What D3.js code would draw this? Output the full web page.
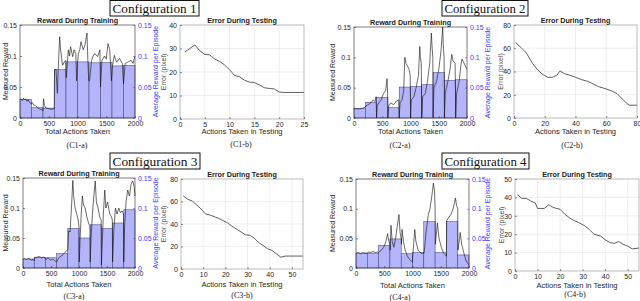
<!DOCTYPE html>
<html>
<head>
<meta charset="utf-8">
<script src="https://cdn.jsdelivr.net/npm/d3@7"></script>
<style>
  body { margin: 0; background: #fff; }
  svg { display: block; font-family: "Liberation Sans", Arial, sans-serif; }
  .tick text { font-size: 7px; fill: #262626; }
  .tick line { stroke: #262626; stroke-width: 0.5; }
  .domain { display: none; }
  .blue .tick text { fill: #3c3cff; }
  .blue .tick line { stroke: #3c3cff; }
</style>
</head>
<body>
<svg id="fig" width="640" height="301"></svg>
<script>
// ── Data ────────────────────────────────────────────────────────
const episodeStarts = [0, 200, 400, 600, 800, 1000, 1200, 1400, 1600, 1800];

const c1Bars = [0.0297, 0.0165, 0.016, 0.078, 0.0905, 0.0905, 0.089, 0.0895, 0.084, 0.085];
const c2Bars = [0.0157, 0.026, 0.034, 0.017, 0.051, 0.052, 0.055, 0.075, 0.062, 0.063];
const c3Bars = [0.015, 0.018, 0.017, 0.024, 0.066, 0.05, 0.072, 0.066, 0.075, 0.097];
const c4Bars = [0.025, 0.025, 0.038, 0.049, 0.024, 0.026, 0.078, 0.026, 0.078, 0.022];

const c1Reward = [
  [0,0.03],[20,0.031],[40,0.028],[60,0.032],[80,0.029],[100,0.031],[120,0.027],[140,0.03],[160,0.026],[180,0.024],[200,0.022],
  [210,0.025],[240,0.021],[270,0.02],[300,0.017],[330,0.015],[360,0.014],[390,0.013],
  [400,0.012],[410,0.031],[425,0.02],[450,0.016],[500,0.015],[550,0.014],[595,0.015],
  [600,0.077],[625,0.079],[650,0.04],[665,0.08],[690,0.131],[705,0.11],[715,0.104],[740,0.085],[770,0.09],[795,0.093],
  [805,0.065],[840,0.11],[860,0.1],[880,0.115],[915,0.099],[940,0.11],[970,0.104],[985,0.06],[1000,0.088],
  [1015,0.104],[1040,0.11],[1060,0.123],[1100,0.11],[1130,0.118],[1165,0.137],[1180,0.093],[1195,0.06],
  [1210,0.06],[1245,0.093],[1270,0.1],[1300,0.104],[1350,0.099],[1390,0.11],[1400,0.05],
  [1425,0.093],[1470,0.1],[1500,0.095],[1530,0.12],[1560,0.11],[1590,0.06],
  [1610,0.085],[1640,0.101],[1680,0.09],[1730,0.096],[1780,0.088],[1800,0.055],
  [1830,0.088],[1890,0.091],[1935,0.093],[1965,0.088],[2000,0.1]
];
const c2Reward = [
  [0,0.016],[50,0.015],[100,0.015],[150,0.016],[200,0.018],
  [210,0.02],[250,0.022],[300,0.025],[340,0.03],[370,0.027],[390,0.035],
  [400,0.0],[410,0.02],[440,0.025],[480,0.03],[520,0.04],[560,0.045],[585,0.065],[595,0.04],
  [600,0.0],[615,0.02],[650,0.025],[700,0.022],[750,0.028],[790,0.03],
  [800,0.0],[815,0.025],[850,0.03],[880,0.045],[900,0.1],[920,0.09],[950,0.085],[975,0.08],[995,0.07],
  [1000,0.0],[1015,0.03],[1060,0.035],[1100,0.05],[1140,0.07],[1165,0.118],[1175,0.1],[1190,0.09],
  [1200,0.0],[1215,0.035],[1260,0.04],[1300,0.06],[1340,0.09],[1370,0.14],[1380,0.12],[1395,0.1],
  [1400,0.0],[1415,0.05],[1460,0.06],[1500,0.08],[1540,0.11],[1570,0.15],[1580,0.12],[1595,0.1],
  [1600,0.0],[1615,0.04],[1660,0.06],[1700,0.08],[1730,0.105],[1750,0.095],[1790,0.09],
  [1800,0.0],[1815,0.04],[1860,0.06],[1890,0.085],[1910,0.097],[1950,0.09],[2000,0.08]
];
const c3Reward = [
  [0,0.015],[30,0.016],[60,0.014],[90,0.016],[120,0.015],[150,0.013],[180,0.014],[200,0.012],
  [210,0.017],[250,0.018],[290,0.019],[330,0.017],[370,0.018],[400,0.016],
  [410,0.014],[450,0.017],[490,0.013],[530,0.015],[570,0.012],[600,0.01],
  [610,0.012],[650,0.018],[690,0.02],[730,0.024],[770,0.028],[790,0.03],
  [800,0.03],[815,0.062],[840,0.06],[865,0.1],[890,0.146],[905,0.12],[930,0.1],[960,0.09],[985,0.08],[1000,0.068],
  [1005,0.01],[1020,0.05],[1040,0.09],[1060,0.12],[1080,0.105],[1110,0.1],[1140,0.085],[1170,0.075],[1195,0.07],
  [1200,0.01],[1215,0.05],[1240,0.09],[1265,0.12],[1290,0.145],[1310,0.11],[1340,0.1],[1370,0.085],[1395,0.08],
  [1400,0.005],[1415,0.04],[1435,0.09],[1460,0.13],[1480,0.1],[1510,0.11],[1550,0.09],[1580,0.085],[1595,0.08],
  [1600,0.01],[1620,0.06],[1650,0.1],[1680,0.09],[1710,0.1],[1740,0.092],[1770,0.095],[1795,0.09],
  [1800,0.01],[1815,0.07],[1840,0.11],[1870,0.13],[1900,0.12],[1930,0.14],[1960,0.145],[1985,0.135],[2000,0.12]
];
const c4Reward = [
  [0,0.025],[40,0.026],[80,0.024],[120,0.026],[160,0.025],[200,0.025],
  [220,0.027],[260,0.026],[300,0.028],[340,0.026],[380,0.027],[400,0.026],
  [410,0.027],[450,0.03],[490,0.035],[530,0.045],[560,0.058],[580,0.045],[600,0.04],
  [605,0.03],[620,0.072],[640,0.045],[670,0.035],[700,0.05],[730,0.07],[760,0.09],[780,0.06],[800,0.05],
  [805,0.04],[815,0.065],[840,0.045],[870,0.03],[910,0.02],[950,0.014],[1000,0.01],
  [1005,0.02],[1040,0.065],[1060,0.045],[1100,0.03],[1150,0.025],[1200,0.025],
  [1205,0.025],[1240,0.06],[1280,0.09],[1310,0.1],[1340,0.12],[1370,0.143],[1390,0.13],[1400,0.1],
  [1405,0.04],[1440,0.076],[1470,0.05],[1510,0.035],[1550,0.025],[1600,0.02],
  [1605,0.08],[1640,0.085],[1680,0.09],[1720,0.1],[1760,0.118],[1780,0.105],[1800,0.1],
  [1805,0.03],[1845,0.06],[1870,0.04],[1910,0.025],[1950,0.012],[2000,0.005]
];

const c1Error = [[1,28.5],[2,30],[3,31.5],[4,29],[5,27.5],[6,27.3],[7,25.5],[8,24.5],[9,23],[10,21],[11,18.5],[12,18],[13,16.5],[14,15.7],[15,15.5],[16,14.5],[17,13.3],[18,13],[19,12.8],[20,11.5],[21,11.3],[22,11.3],[23,11.3],[24,11.3],[25,11.3]];
const c2Error = [[1,65],[5,60],[8,56],[12,47],[15,42],[18,38],[22,35],[25,35],[28,37],[30,40.5],[33,38],[36,37],[40,35],[44,33],[48,31.5],[52,29],[55,27],[60,25],[64,23],[67,21],[70,17],[73,13],[75,11],[80,11]];
const c3Error = [[1,65],[3,62],[5,60.5],[7,57],[9,53.5],[11,49],[13,48],[15,46.5],[17,45],[19,43],[21,41],[23,38],[25,35.5],[27,33],[29,30.5],[31,30],[33,27.5],[35,23.5],[37,21],[39,18],[41,16.5],[43,13.5],[45,10.5],[47,11.5],[49,11.5],[55,11.5]];
const c4Error = [[1,41.5],[3,39.5],[5,39.5],[7,38],[9,37],[10,34],[13,34],[15,36],[17,34.5],[20,33.5],[22,31],[24,29],[26,27.5],[28,26.5],[31,24.5],[33,22.5],[35,20],[38,19],[40,17],[42,15.5],[44,15],[46,16],[48,14.5],[50,13.5],[52,12],[55,12.5]];

const rewardTicks = [0, 0.05, 0.1, 0.15];
const actionTicks = [0, 500, 1000, 1500, 2000];

const configLabels = ['Configuration 1', 'Configuration 2', 'Configuration 3', 'Configuration 4'];
const captionsA = ['(C1-a)', '(C2-a)', '(C3-a)', '(C4-a)'];
const captionsB = ['(C1-b)', '(C2-b)', '(C3-b)', '(C4-b)'];

// ── Layout ──────────────────────────────────────────────────────
const svg = d3.select('#fig');
const BLUE = '#3c3cff';

const trainPanels = [
  { bars: c1Bars, line: c1Reward, box: [20, 135, 25, 118], lab: 5, rlab: 155, cap: [77, 145], xl: 131 },
  { bars: c2Bars, line: c2Reward, box: [354, 467, 27, 118], lab: 332, rlab: 487, cap: [400, 145], xl: 131 },
  { bars: c3Bars, line: c3Reward, box: [23, 135, 178, 268], lab: 5, rlab: 155, cap: [74, 296], xl: 284 },
  { bars: c4Bars, line: c4Reward, box: [356, 469, 179, 268], lab: 332, rlab: 487, cap: [400, 297], xl: 285 }
];
const testPanels = [
  { line: c1Error, xmax: 25, xticks: [0,5,10,15,20,25], ymax: 40, yticks: [0,10,20,30,40], box: [180, 304, 25, 119], lab: 163, cap: [241, 144], xl: 131 },
  { line: c2Error, xmax: 80, xticks: [0,20,40,60,80], ymax: 80, yticks: [0,20,40,60,80], box: [514, 637, 25, 118], lab: 500, cap: [572, 145], xl: 131 },
  { line: c3Error, xmax: 55, xticks: [0,10,20,30,40,50], ymax: 80, yticks: [0,20,40,60,80], box: [181, 303, 179, 269], lab: 163, cap: [242, 295], xl: 284 },
  { line: c4Error, xmax: 55, xticks: [0,10,20,30,40,50], ymax: 50, yticks: [0,10,20,30,40,50], box: [515, 639, 179, 271], lab: 501, cap: [575, 294], xl: 285 }
];
const configBoxes = [[110, 199, 0.5, 16], [442, 528, 0.5, 16], [110, 200, 153, 169], [442, 529, 153, 169]];

const fmtR = d => d === 0 ? '0' : String(+d.toFixed(2));
const fmtI = d3.format('d');

function rotLabel(x, y, text, color) {
  svg.append('text')
    .attr('transform', `translate(${x},${y}) rotate(-90)`)
    .attr('text-anchor', 'middle').attr('dominant-baseline', 'central')
    .attr('font-size', 7).attr('fill', color).text(text);
}

function title(x, y, text) {
  svg.append('text').attr('x', x).attr('y', y).attr('text-anchor', 'middle')
    .attr('font-size', 7.2).attr('font-weight', 'bold').attr('fill', '#1a1a1a').text(text);
}

function caption(x, y, text) {
  svg.append('text').attr('x', x).attr('y', y).attr('text-anchor', 'middle')
    .attr('dominant-baseline', 'central')
    .attr('font-family', '"Liberation Serif", "Times New Roman", serif')
    .attr('font-size', 8).attr('fill', '#222').text(text);
}

// ── Training panels ─────────────────────────────────────────────
trainPanels.forEach((p, i) => {
  const [x0, x1, y0, y1] = p.box;
  const x = d3.scaleLinear().domain([0, 2000]).range([x0, x1]);
  const y = d3.scaleLinear().domain([0, 0.15]).range([y1, y0]);
  const g = svg.append('g');

  g.selectAll('rect.bar').data(p.bars).join('rect')
    .attr('class', 'bar')
    .attr('x', (d, k) => x(episodeStarts[k]))
    .attr('width', (d, k) => x(episodeStarts[k] + 200) - x(episodeStarts[k]))
    .attr('y', d => y(d))
    .attr('height', d => y(0) - y(d))
    .attr('fill', '#b4b4fa')
    .attr('stroke', '#3a3a70').attr('stroke-width', 0.5);

  const line = d3.line().x(d => x(d[0])).y(d => y(d[1]));
  g.append('path').datum(p.line).attr('d', line)
    .attr('fill', 'none').attr('stroke', '#1a1a1a').attr('stroke-width', 0.65);

  g.append('rect').attr('x', x0).attr('y', y0).attr('width', x1 - x0).attr('height', y1 - y0)
    .attr('fill', 'none').attr('stroke', '#262626').attr('stroke-width', 0.6);

  g.append('g').attr('transform', `translate(0,${y1})`)
    .call(d3.axisBottom(x).tickValues(actionTicks).tickFormat(fmtI).tickSize(-2).tickPadding(3));
  g.append('g').attr('transform', `translate(${x0},0)`)
    .call(d3.axisLeft(y).tickValues(rewardTicks).tickFormat(fmtR).tickSize(-2).tickPadding(3));
  g.append('g').attr('class', 'blue').attr('transform', `translate(${x1},0)`)
    .call(d3.axisRight(y).tickValues(rewardTicks).tickFormat(fmtR).tickSize(-2).tickPadding(3));

  title((x0 + x1) / 2, y0 - 2.5, 'Reward During Training');
  rotLabel(p.lab, (y0 + y1) / 2, 'Measured Reward', '#262626');
  rotLabel(p.rlab, (y0 + y1) / 2, 'Average Reward per Episode', BLUE);
  svg.append('text').attr('x', (x0 + x1) / 2).attr('y', p.xl).attr('text-anchor', 'middle')
    .attr('dominant-baseline', 'central').attr('font-size', 7.6).attr('fill', '#262626')
    .text('Total Actions Taken');
  caption(p.cap[0], p.cap[1], captionsA[i]);
});

// ── Testing panels ──────────────────────────────────────────────
testPanels.forEach((p, i) => {
  const [x0, x1, y0, y1] = p.box;
  const x = d3.scaleLinear().domain([0, p.xmax]).range([x0, x1]);
  const y = d3.scaleLinear().domain([0, p.ymax]).range([y1, y0]);
  const g = svg.append('g');

  g.append('g').selectAll('line.gx').data(p.xticks.filter(t => t > 0 && t < p.xmax)).join('line')
    .attr('x1', d => x(d)).attr('x2', d => x(d)).attr('y1', y0).attr('y2', y1)
    .attr('stroke', '#e3e3e3').attr('stroke-width', 0.6);
  g.append('g').selectAll('line.gy').data(p.yticks.filter(t => t > 0 && t < p.ymax)).join('line')
    .attr('y1', d => y(d)).attr('y2', d => y(d)).attr('x1', x0).attr('x2', x1)
    .attr('stroke', '#e3e3e3').attr('stroke-width', 0.6);

  const line = d3.line().x(d => x(d[0])).y(d => y(d[1]));
  g.append('path').datum(p.line).attr('d', line)
    .attr('fill', 'none').attr('stroke', '#4d4d4d').attr('stroke-width', 0.9);

  g.append('rect').attr('x', x0).attr('y', y0).attr('width', x1 - x0).attr('height', y1 - y0)
    .attr('fill', 'none').attr('stroke', '#8c8c8c').attr('stroke-width', 0.6);

  g.append('g').attr('transform', `translate(0,${y1})`)
    .call(d3.axisBottom(x).tickValues(p.xticks).tickFormat(fmtI).tickSize(-2).tickPadding(3));
  g.append('g').attr('transform', `translate(${x0},0)`)
    .call(d3.axisLeft(y).tickValues(p.yticks).tickFormat(fmtI).tickSize(-2).tickPadding(3));
  g.selectAll('.tick line').attr('stroke', '#8c8c8c');
  g.selectAll('.tick text').attr('fill', '#4d4d4d');

  title((x0 + x1) / 2, y0 - 2.5, 'Error During Testing');
  rotLabel(p.lab, (y0 + y1) / 2, 'Error (pixel)', '#4d4d4d');
  svg.append('text').attr('x', (x0 + x1) / 2).attr('y', p.xl).attr('text-anchor', 'middle')
    .attr('dominant-baseline', 'central').attr('font-size', 7.6).attr('fill', '#262626')
    .text('Actions Taken in Testing');
  caption(p.cap[0], p.cap[1], captionsB[i]);
});

// ── Configuration boxes ─────────────────────────────────────────
configBoxes.forEach((b, i) => {
  const [bx0, bx1, by0, by1] = b;
  svg.append('rect').attr('x', bx0).attr('y', by0).attr('width', bx1 - bx0).attr('height', by1 - by0)
    .attr('fill', '#fff').attr('stroke', '#111').attr('stroke-width', 1);
  svg.append('text').attr('x', (bx0 + bx1) / 2).attr('y', (by0 + by1) / 2 + 0.5)
    .attr('text-anchor', 'middle').attr('dominant-baseline', 'central')
    .attr('font-family', '"Liberation Serif", "Times New Roman", serif')
    .attr('font-size', 13.5).attr('fill', '#111')
    .attr('textLength', bx1 - bx0 - 5).attr('lengthAdjust', 'spacingAndGlyphs')
    .text(configLabels[i]);
});
</script>
</body>
</html>
